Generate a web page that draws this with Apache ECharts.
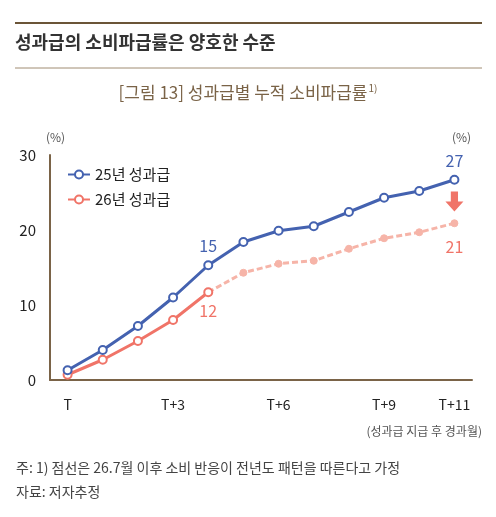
<!DOCTYPE html><html><head><meta charset="utf-8">
<script src="https://cdn.jsdelivr.net/npm/echarts@6/dist/echarts.min.js"></script>
<style>body{margin:0;background:#fff}#c{width:496px;height:517px}</style></head><body><div id="c"></div>
<script>
const categories=['T','T+1','T+2','T+3','T+4','T+5','T+6','T+7','T+8','T+9','T+10','T+11'];
const tickLabels={0:'T',3:'T+3',6:'T+6',9:'T+9',11:'T+11'};
const blue=[1.3,4.0,7.2,11.0,15.3,18.4,19.9,20.5,22.4,24.3,25.2,26.7];
const redSolid=[0.7,2.7,5.2,8.0,11.7,null,null,null,null,null,null,null];
const redDash=[null,null,null,null,11.7,14.3,15.5,15.9,17.5,18.9,19.7,20.9];
const F='"Noto Sans CJK KR",sans-serif';
const brown='#7a6347';
const c=echarts.init(document.getElementById('c'));
const mk=(data,color,opts)=>Object.assign({type:'line',data,symbol:'circle',symbolSize:8,
 itemStyle:{color:'#fff',borderColor:color,borderWidth:2},lineStyle:{color,width:3},connectNulls:false},opts);
c.setOption({
 animation:false,
 graphic:[
  {type:'line',shape:{x1:15,y1:23,x2:482,y2:23},style:{stroke:'#6b5538',lineWidth:2}},
  {type:'text',left:15,top:33,style:{text:'성과급의 소비파급률은 양호한 수준',font:'bold 18px '+F,fill:'#333'}},
  {type:'line',shape:{x1:15,y1:68,x2:482,y2:68},style:{stroke:'#a08c72',lineWidth:1}},
  {type:'text',left:'center',top:83,style:{text:'[그림 13] 성과급별 누적 소비파급률{s|1)}',font:'17px '+F,fill:brown,
    rich:{s:{fontSize:10,fontFamily:F,fill:brown,verticalAlign:'top',padding:[0,0,10,1]}}}},
  {type:'text',left:46,top:131,style:{text:'(%)',font:'12px '+F,fill:'#555'}},
  {type:'text',left:452,top:131,style:{text:'(%)',font:'12px '+F,fill:'#555'}},
  {type:'text',right:14,top:425,style:{text:'(성과급 지급 후 경과월)',font:'12px '+F,fill:'#555'}},
  {type:'text',left:16,top:461,style:{text:'주: 1) 점선은 26.7월 이후 소비 반응이 전년도 패턴을 따른다고 가정',font:'14px '+F,fill:'#444'}},
  {type:'text',left:16,top:485,style:{text:'자료: 저자추정',font:'14px '+F,fill:'#444'}}
 ],
 legend:{left:62,top:162,orient:'vertical',itemGap:10,itemWidth:22,itemHeight:10,
  textStyle:{fontFamily:F,fontSize:15,color:'#222'},data:['25년 성과급','26년 성과급']},
 grid:{left:50,right:24,top:155,bottom:137},
 xAxis:{type:'category',data:categories,boundaryGap:['3.3%','1.5%'],
  axisLine:{lineStyle:{color:brown,width:2}},axisTick:{show:false},
  axisLabel:{interval:0,margin:18,fontFamily:F,fontSize:14,color:'#222',formatter:(v,i)=>tickLabels[i]||''}},
 yAxis:{type:'value',min:0,max:30,interval:10,splitLine:{show:false},
  axisLine:{show:true,lineStyle:{color:brown,width:2}},axisTick:{show:false},
  axisLabel:{margin:14,fontFamily:F,fontSize:15,color:'#222',align:'right'}},
 series:[
  mk(redDash,'#f6b4a8',{name:'26년 성과급dash',lineStyle:{color:'#f6b4a8',width:3,type:[6,3]},
   itemStyle:{color:'#f6b4a8',borderColor:'#f6b4a8'},symbolSize:7,
   label:{show:true,position:'bottom',distance:12,color:'#f07468',fontSize:16,fontFamily:F,
    formatter:p=>p.dataIndex===11?'21':''},
   markPoint:{symbol:'path://M3,0 L7,0 L7,5 L10,5 L5,10 L0,5 L3,5 Z',symbolSize:[18,20],
    itemStyle:{color:'#f07468'},label:{show:false},data:[{coord:[11,23.8]}]}}),
  mk(redSolid,'#f07468',{name:'26년 성과급',
   label:{show:true,position:'bottom',distance:6,color:'#f07468',fontSize:16,fontFamily:F,
    formatter:p=>p.dataIndex===4?'12':''}}),
  mk(blue,'#4462b0',{name:'25년 성과급',
   label:{show:true,position:'top',distance:6,color:'#4462b0',fontSize:16,fontFamily:F,
    formatter:p=>(p.dataIndex===4?'15':p.dataIndex===11?'27':'')}})
 ]
});
</script></body></html>
